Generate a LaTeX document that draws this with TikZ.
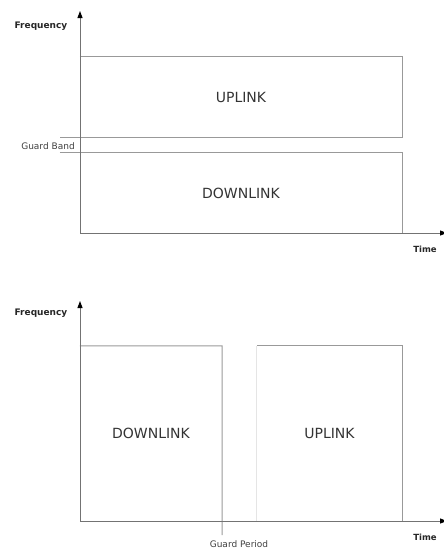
\documentclass[tikz,border=0pt]{standalone}
\usepackage{fontspec}
\setmainfont{DejaVu Sans}
\usetikzlibrary{arrows.meta}
\begin{document}
\begin{tikzpicture}[x=1pt,y=-1pt,
  band/.style={inner sep=0pt, font=\fontsize{14}{16}\selectfont, text=black!80},
  edge/.style={draw=black!40, line width=1pt},
  faint/.style={draw=black!10, line width=0.8pt},
  axis/.style={draw=black!55, line width=1pt, -{Triangle[width=5pt,length=7pt,color=black]}},
  axlabel/.style={font=\bfseries\fontsize{9}{10}\selectfont, text=black!85},
  tlabel/.style={font=\bfseries\fontsize{8.5}{10}\selectfont, text=black!85},
  small/.style={inner sep=0pt, font=\fontsize{9}{10}\selectfont, text=black!75}]
\useasboundingbox (0,0) rectangle (444,550);
% ---------- top diagram (FDD) ----------
\node[band, minimum width=322pt, minimum height=80pt] (ul1) at (241,97) {UPLINK};
\node[band, minimum width=322pt, minimum height=80pt] (dl1) at (241,193) {DOWNLINK};
\draw[edge] (ul1.north west) -- (ul1.north east) -- (ul1.south east) -- ([xshift=-20pt]ul1.south west);
\draw[edge] ([xshift=-20pt]dl1.north west) -- (dl1.north east) -- (dl1.south east);
\coordinate (o1) at (80,233);
\coordinate (y1) at (80,11);
\coordinate (x1) at (447,233);
\draw[axis] (o1) -- (y1);
\draw[axis] (o1) -- (x1);
\node[axlabel] (f1) at (41,26) {Frequency};
\node[small] (gb) at (48,146) {Guard Band};
\node[tlabel] (t1) at (425,249) {Time};
% ---------- bottom diagram (TDD) ----------
\node[band, minimum width=142pt, minimum height=175pt] (dl2) at (151,433.5) {DOWNLINK};
\node[band, minimum width=145pt, minimum height=175pt] (ul2) at (329.5,433.5) {UPLINK};
\coordinate (gp) at (222,535);
\draw[edge] (dl2.north west) -- (dl2.north east) -- (gp);
\draw[faint] (ul2.south west) -- (ul2.north west);
\draw[edge] (ul2.north west) -- (ul2.north east) -- (ul2.south east);
\coordinate (o2) at (80,521);
\coordinate (y2) at (80,301);
\coordinate (x2) at (447,521);
\draw[axis] (o2) -- (y2);
\draw[axis] (o2) -- (x2);
\node[axlabel] (f2) at (41,313) {Frequency};
\node[tlabel] (t2) at (425,537) {Time};
\node[small] (gpl) at (239,544.5) {Guard Period};
\end{tikzpicture}
\end{document}
